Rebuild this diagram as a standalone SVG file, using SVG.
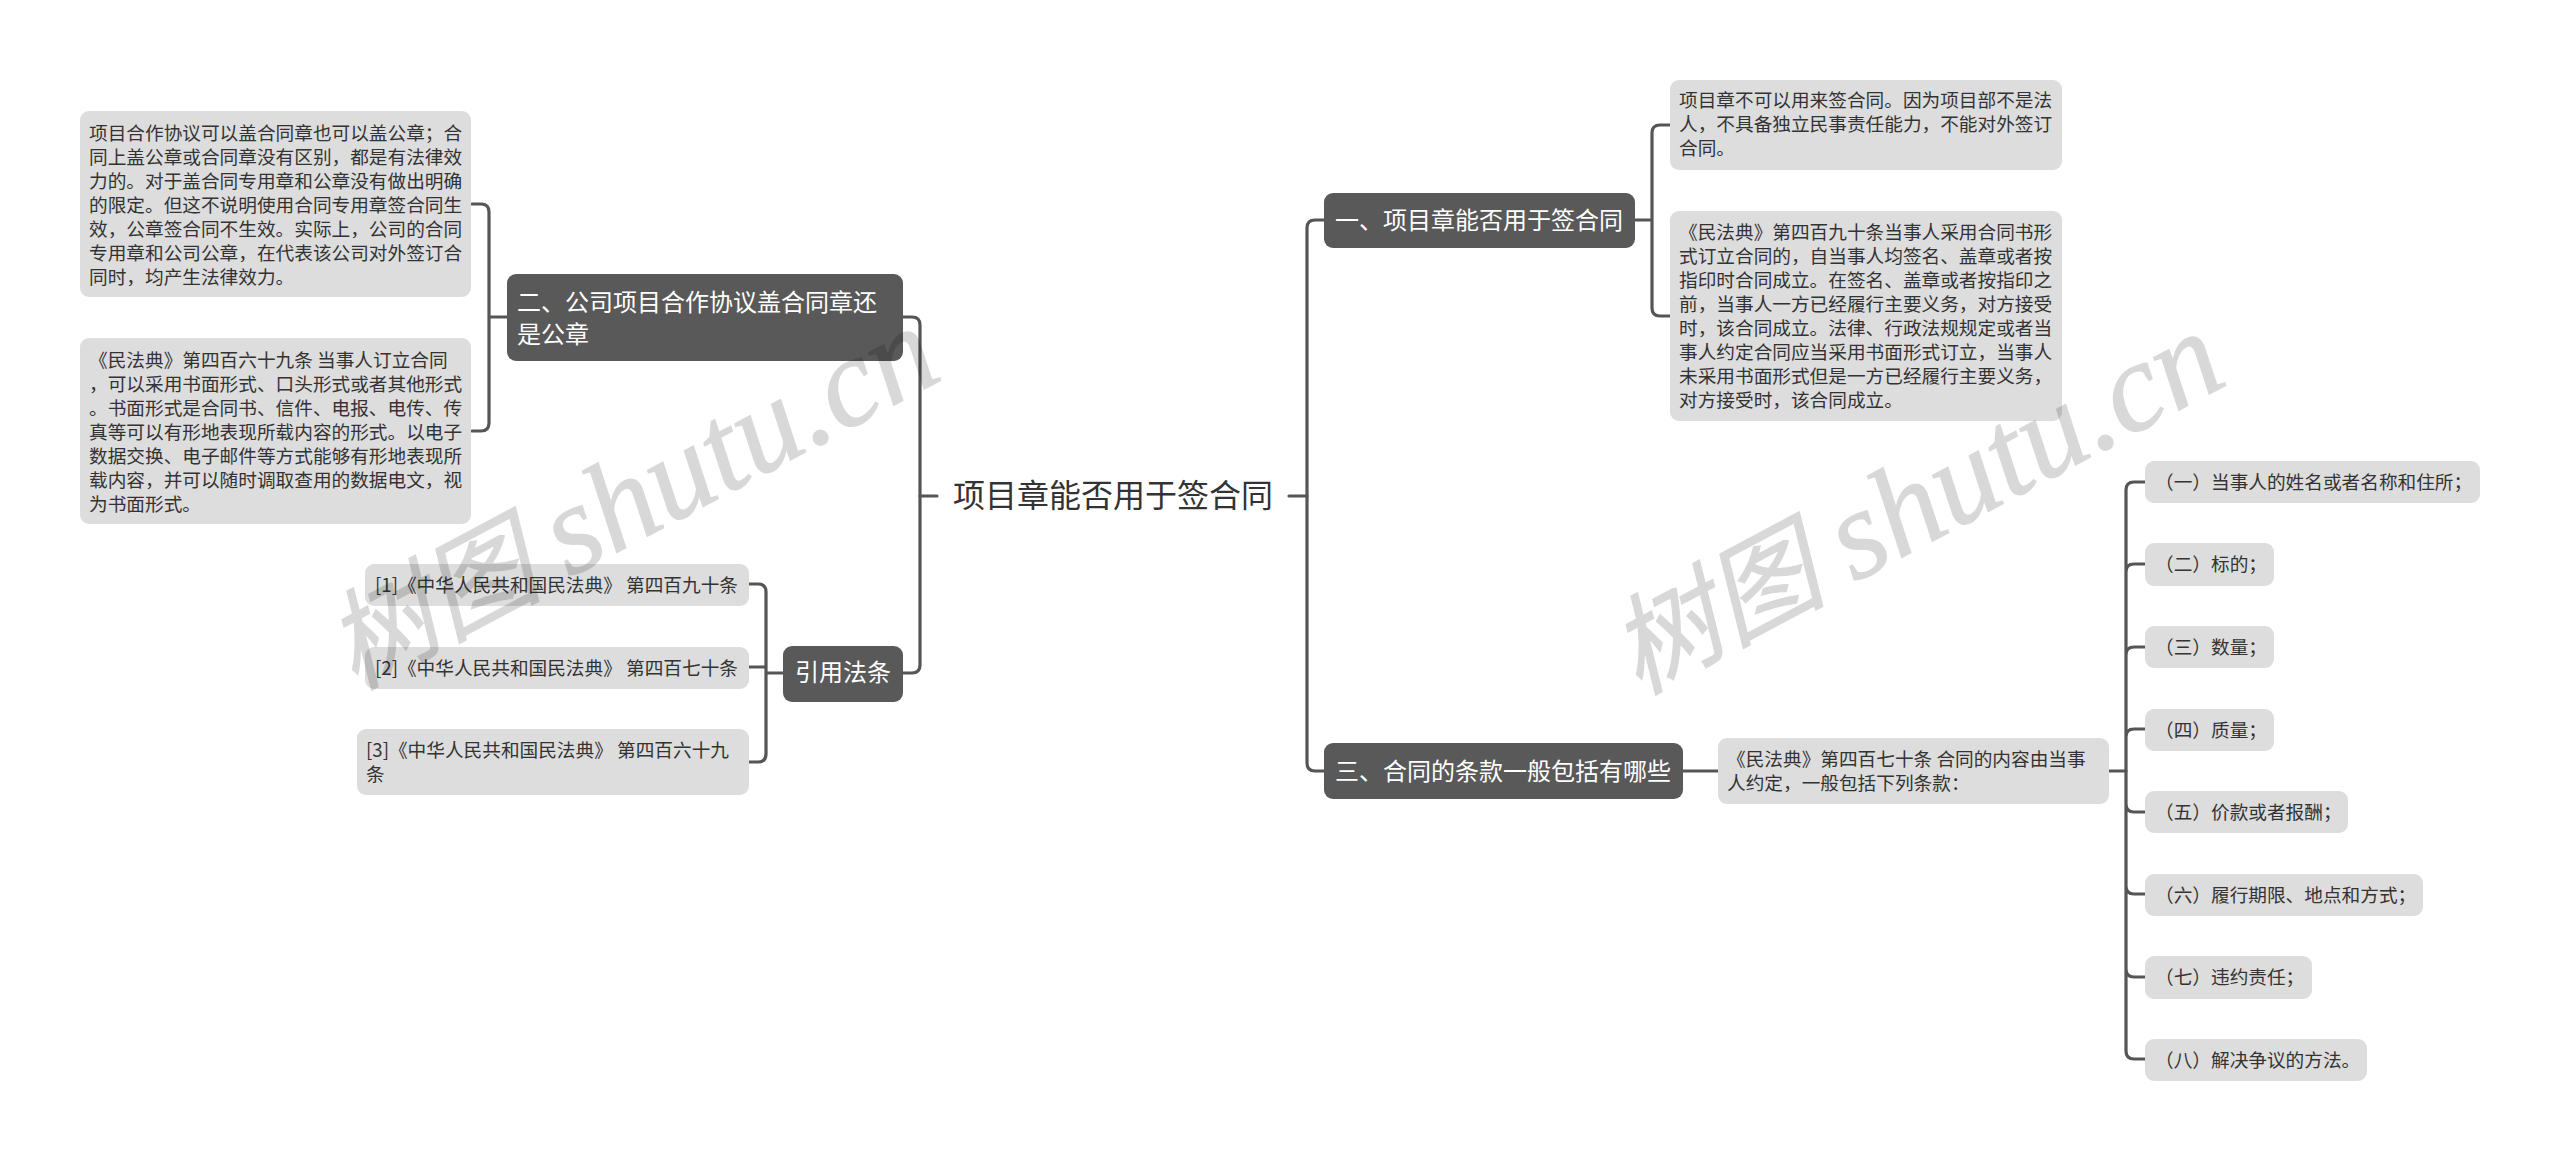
<svg xmlns="http://www.w3.org/2000/svg" width="2560" height="1161" viewBox="0 0 2560 1161">
<style>
text{font-family:"Noto Sans CJK SC","Liberation Sans",sans-serif}
.l{fill:#ddd}
.d{fill:#595959}
.t{font-size:18.67px;fill:#333}
.w{font-size:24px;fill:#fff}
.c{font-size:32px;fill:#333}
.wm{font-family:"Liberation Serif","Noto Sans CJK SC",serif;font-style:italic;font-size:127px;fill:#000;stroke:#000;stroke-width:1.2;opacity:.15}
.wc{font-size:108px}
#connectors path{fill:none;stroke:#555;stroke-width:3.2;stroke-linecap:round}
</style>
<rect width="2560" height="1161" fill="#fff"/>
<g id="connectors">
<path d="M937 496H920M1289 496H1307"/>
<path d="M1324 220H1315Q1307 220 1307 228V763Q1307 771 1315 771H1324"/>
<path d="M903 317H912Q920 317 920 325V665Q920 673 912 673H903"/>
<path d="M507 317H489M472 204H481Q489 204 489 212V423Q489 431 481 431H472"/>
<path d="M783 673H766M749 584H758Q766 584 766 592V754Q766 762 758 762H749M749 667H766"/>
<path d="M1635 220H1652M1670 125H1660Q1652 125 1652 133V308Q1652 316 1660 316H1670"/>
<path d="M1683 771H1718M2109 771H2126"/>
<path d="M2145 482H2134Q2126 482 2126 490V1051Q2126 1059 2134 1059H2145M2145 564H2134Q2126 564 2126 572M2145 647H2134Q2126 647 2126 655M2145 729H2134Q2126 729 2126 737M2145 812H2134Q2126 812 2126 804M2145 894H2134Q2126 894 2126 886M2145 977H2134Q2126 977 2126 969"/>
</g>
<g id="root"><text class="c" x="953" y="507">项目章能否用于签合同</text></g>
<g id="n-2"><rect class="d" x="507" y="274" width="396" height="87" rx="9"/><text class="w" x="517" y="311">二、公司项目合作协议盖合同章还</text><text class="w" x="517" y="343">是公章</text></g>
<g id="n-2a"><rect class="l" x="80" y="111" width="391" height="186" rx="9"/>
<text class="t" x="89" y="140">项目合作协议可以盖合同章也可以盖公章；合</text>
<text class="t" x="89" y="164">同上盖公章或合同章没有区别，都是有法律效</text>
<text class="t" x="89" y="188">力的。对于盖合同专用章和公章没有做出明确</text>
<text class="t" x="89" y="212">的限定。但这不说明使用合同专用章签合同生</text>
<text class="t" x="89" y="236">效，公章签合同不生效。实际上，公司的合同</text>
<text class="t" x="89" y="260">专用章和公司公章，在代表该公司对外签订合</text>
<text class="t" x="89" y="284">同时，均产生法律效力。</text></g>
<g id="n-2b"><rect class="l" x="80" y="338" width="391" height="186" rx="9"/>
<text class="t" x="89" y="367">《民法典》第四百六十九条 当事人订立合同</text>
<text class="t" x="89" y="391">，可以采用书面形式、口头形式或者其他形式</text>
<text class="t" x="89" y="415">。书面形式是合同书、信件、电报、电传、传</text>
<text class="t" x="89" y="439">真等可以有形地表现所载内容的形式。以电子</text>
<text class="t" x="89" y="463">数据交换、电子邮件等方式能够有形地表现所</text>
<text class="t" x="89" y="487">载内容，并可以随时调取查用的数据电文，视</text>
<text class="t" x="89" y="511">为书面形式。</text></g>
<g id="n-ref"><rect class="d" x="783" y="646" width="120" height="56" rx="9"/><text class="w" x="795" y="681">引用法条</text></g>
<g id="n-r1"><rect class="l" x="365" y="564" width="384" height="42" rx="9"/><text class="t" x="375" y="592">[1]《中华人民共和国民法典》 第四百九十条</text></g>
<g id="n-r2"><rect class="l" x="365" y="647" width="384" height="42" rx="9"/><text class="t" x="375" y="675">[2]《中华人民共和国民法典》 第四百七十条</text></g>
<g id="n-r3"><rect class="l" x="357" y="729" width="392" height="66" rx="9"/><text class="t" x="366" y="757">[3]《中华人民共和国民法典》 第四百六十九</text><text class="t" x="366" y="781">条</text></g>
<g id="n-1"><rect class="d" x="1324" y="193" width="311" height="55" rx="9"/><text class="w" x="1335" y="229">一、项目章能否用于签合同</text></g>
<g id="n-1a"><rect class="l" x="1670" y="80" width="392" height="90" rx="9"/>
<text class="t" x="1679" y="107">项目章不可以用来签合同。因为项目部不是法</text>
<text class="t" x="1679" y="131">人，不具备独立民事责任能力，不能对外签订</text>
<text class="t" x="1679" y="155">合同。</text></g>
<g id="n-1b"><rect class="l" x="1670" y="211" width="392" height="210" rx="9"/>
<text class="t" x="1679" y="239">《民法典》第四百九十条当事人采用合同书形</text>
<text class="t" x="1679" y="263">式订立合同的，自当事人均签名、盖章或者按</text>
<text class="t" x="1679" y="287">指印时合同成立。在签名、盖章或者按指印之</text>
<text class="t" x="1679" y="311">前，当事人一方已经履行主要义务，对方接受</text>
<text class="t" x="1679" y="335">时，该合同成立。法律、行政法规规定或者当</text>
<text class="t" x="1679" y="359">事人约定合同应当采用书面形式订立，当事人</text>
<text class="t" x="1679" y="383">未采用书面形式但是一方已经履行主要义务，</text>
<text class="t" x="1679" y="407">对方接受时，该合同成立。</text></g>
<g id="n-3"><rect class="d" x="1324" y="743" width="359" height="56" rx="9"/><text class="w" x="1335" y="780">三、合同的条款一般包括有哪些</text></g>
<g id="n-3a"><rect class="l" x="1718" y="738" width="391" height="66" rx="9"/>
<text class="t" x="1727" y="766">《民法典》第四百七十条 合同的内容由当事</text>
<text class="t" x="1727" y="790">人约定，一般包括下列条款：</text></g>
<g id="n-i1"><rect class="l" x="2145" y="461" width="335" height="42" rx="9"/><text class="t" x="2155" y="489">（一）当事人的姓名或者名称和住所；</text></g>
<g id="n-i2"><rect class="l" x="2145" y="543" width="129" height="43" rx="9"/><text class="t" x="2155" y="571">（二）标的；</text></g>
<g id="n-i3"><rect class="l" x="2145" y="626" width="129" height="42" rx="9"/><text class="t" x="2155" y="654">（三）数量；</text></g>
<g id="n-i4"><rect class="l" x="2145" y="709" width="129" height="42" rx="9"/><text class="t" x="2155" y="737">（四）质量；</text></g>
<g id="n-i5"><rect class="l" x="2145" y="791" width="203" height="42" rx="9"/><text class="t" x="2155" y="819">（五）价款或者报酬；</text></g>
<g id="n-i6"><rect class="l" x="2145" y="874" width="278" height="42" rx="9"/><text class="t" x="2155" y="902">（六）履行期限、地点和方式；</text></g>
<g id="n-i7"><rect class="l" x="2145" y="956" width="167" height="43" rx="9"/><text class="t" x="2155" y="984">（七）违约责任；</text></g>
<g id="n-i8"><rect class="l" x="2145" y="1039" width="222" height="42" rx="9"/><text class="t" x="2155" y="1067">（八）解决争议的方法。</text></g>
<text class="wm wc" transform="translate(354 690) rotate(-28)">树图</text>
<text class="wm" transform="translate(569 578) rotate(-28)">shutu.cn</text>
<text class="wm wc" transform="translate(1638 695) rotate(-28)">树图</text>
<text class="wm" transform="translate(1854 583) rotate(-28)">shutu.cn</text>
</svg>
